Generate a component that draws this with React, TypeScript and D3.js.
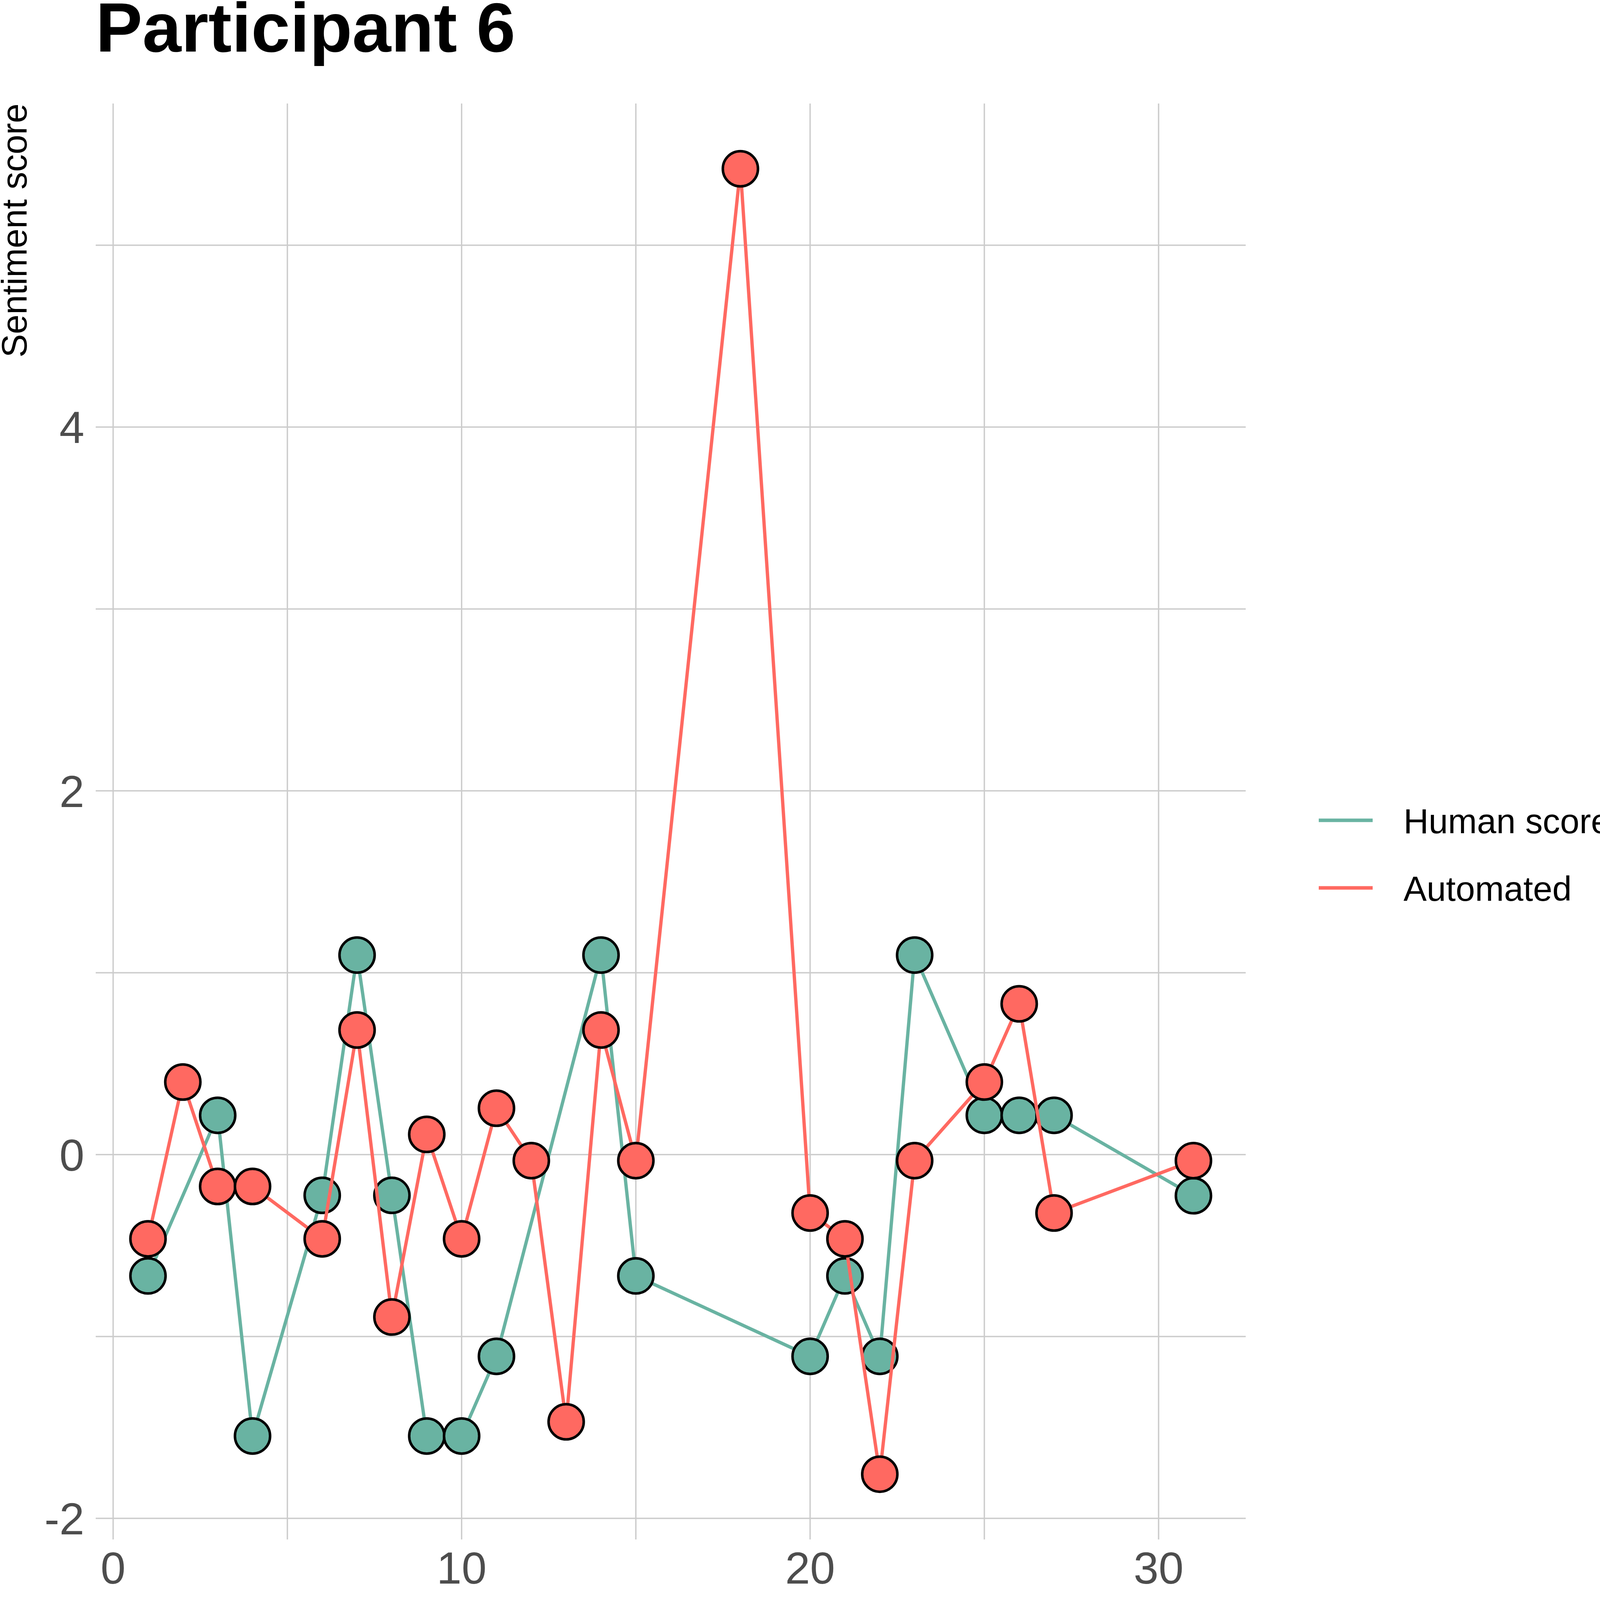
import * as d3 from "d3";

// transcript numbers and scores
const humanX = [1, 3, 4, 6, 7, 8, 9, 10, 11, 14, 15, 20, 21, 22, 23, 25, 26, 27, 31];
const humanY = [
  -0.667, 0.216, -1.547, -0.224, 1.097, -0.224, -1.547, -1.547, -1.109, 1.097,
  -0.667, -1.109, -0.667, -1.109, 1.097, 0.216, 0.216, 0.216, -0.226,
];
const autoX = [1, 2, 3, 4, 6, 7, 8, 9, 10, 11, 12, 13, 14, 15, 18, 20, 21, 22, 23, 25, 26, 27, 31];
const autoY = [
  -0.463, 0.399, -0.175, -0.175, -0.463, 0.685, -0.893, 0.111, -0.463, 0.255,
  -0.033, -1.469, 0.685, -0.033, 5.42, -0.321, -0.463, -1.757, -0.033, 0.399,
  0.829, -0.321, -0.033,
];
const seriesNames = ["Human score", "Automated"];
const seriesColors = ["#69b3a2", "#ff6961"];
const xMajor = [0, 10, 20, 30];
const xMinor = [5, 15, 25];
const yMajor = [-2, 0, 2, 4];
const yMinor = [-1, 1, 3, 5];

const W = 4134;
const H = 4191;
const font = "'Liberation Sans', Arial, sans-serif";

export default function App() {
  const left = 245;
  const right = 3189;
  const top = 265;
  const bottom = 3941;

  const allX = [...humanX, ...autoX];
  const allY = [...humanY, ...autoY];
  const [x0, x1] = d3.extent(allX) as [number, number];
  const [y0, y1] = d3.extent(allY) as [number, number];
  const xPad = (x1 - x0) * 0.05;
  const yPad = (y1 - y0) * 0.05;

  const x = d3.scaleLinear().domain([x0 - xPad, x1 + xPad]).range([left, right]);
  const y = d3.scaleLinear().domain([y0 - yPad, y1 + yPad]).range([bottom, top]);

  const series = [
    { name: seriesNames[0], color: seriesColors[0], pts: humanX.map((v, i) => [v, humanY[i]] as [number, number]) },
    { name: seriesNames[1], color: seriesColors[1], pts: autoX.map((v, i) => [v, autoY[i]] as [number, number]) },
  ];

  const line = d3
    .line<[number, number]>()
    .x((d) => x(d[0]))
    .y((d) => y(d[1]));

  const gridColor = "#cccccc";

  return (
    <svg width={W} height={H} style={{ position: "absolute", left: 0, top: 0, background: "#fff" }}>
      {/* grid */}
      {[...xMinor, ...xMajor].map((t) => (
        <line key={"gx" + t} x1={x(t)} x2={x(t)} y1={top} y2={bottom} stroke={gridColor} strokeWidth={3.5} />
      ))}
      {[...yMinor, ...yMajor].map((t) => (
        <line key={"gy" + t} x1={left} x2={right} y1={y(t)} y2={y(t)} stroke={gridColor} strokeWidth={3.5} />
      ))}

      {/* series: line then points, one series after the other */}
      {series.map((s) => (
        <g key={s.name}>
          <path d={line(s.pts) ?? ""} fill="none" stroke={s.color} strokeWidth={8.5} strokeLinejoin="round" />
          {s.pts.map((p, i) => (
            <circle key={i} cx={x(p[0])} cy={y(p[1])} r={45} fill={s.color} stroke="#000" strokeWidth={6.5} />
          ))}
        </g>
      ))}

      {/* axis tick labels */}
      {xMajor.map((t) => (
        <text key={"tx" + t} x={x(t)} y={4054} textAnchor="middle" fontFamily={font} fontSize={115} fill="#4d4d4d">
          {t}
        </text>
      ))}
      {yMajor.map((t) => (
        <text key={"ty" + t} x={216} y={y(t) + 41} textAnchor="end" fontFamily={font} fontSize={115} fill="#4d4d4d">
          {t}
        </text>
      ))}

      {/* axis titles */}
      <text x={right} y={4168} textAnchor="end" fontFamily={font} fontSize={89} fill="#000">
        Transcript number
      </text>
      <text
        transform={`translate(68, ${top}) rotate(-90)`}
        textAnchor="end"
        fontFamily={font}
        fontSize={90}
        fill="#000"
      >
        Sentiment score
      </text>

      {/* title */}
      <text x={left} y={132} fontFamily={font} fontSize={179} fontWeight="bold" fill="#000">
        Participant 6
      </text>

      {/* legend */}
      {series.map((s, i) => (
        <g key={"lg" + s.name} transform={`translate(0, ${2100 + i * 173})`}>
          <line x1={3376} x2={3514} y1={0} y2={0} stroke={s.color} strokeWidth={9} />
          <text x={3593} y={33} fontFamily={font} fontSize={89} fill="#000">
            {s.name}
          </text>
        </g>
      ))}
    </svg>
  );
}
